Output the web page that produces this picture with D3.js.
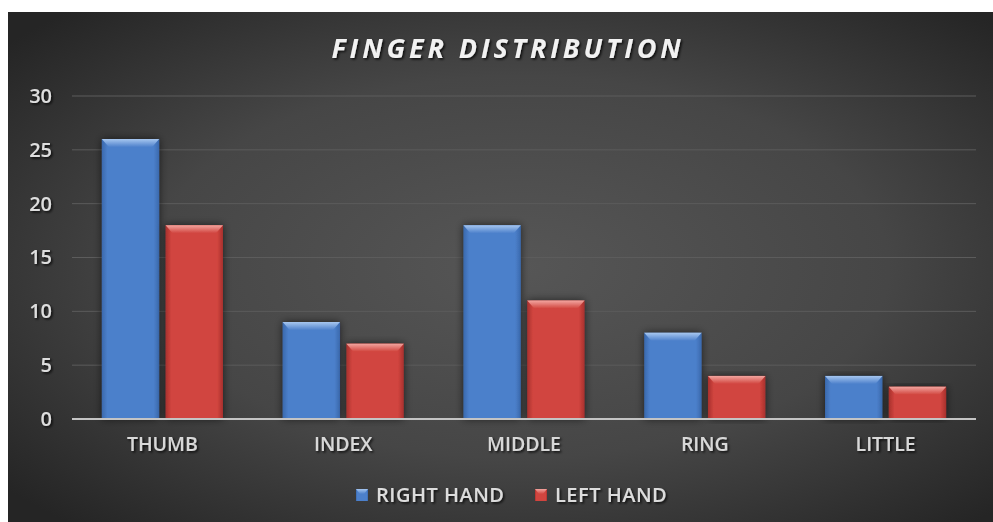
<!DOCTYPE html>
<html><head><meta charset="utf-8">
<script src="https://cdn.jsdelivr.net/npm/d3@7"></script>
<style>html,body{margin:0;padding:0;background:#fff;}svg{display:block;}</style>
</head><body>
<svg id="chart" width="993" height="522"></svg>
<script>
const categories = ["THUMB", "INDEX", "MIDDLE", "RING", "LITTLE"];
const seriesNames = ["RIGHT HAND", "LEFT HAND"];
const rightHand = [26, 9, 18, 8, 4];
const leftHand = [18, 7, 11, 4, 3];
const yTicks = [0, 5, 10, 15, 20, 25, 30];
const chartTitle = "FINGER DISTRIBUTION";

(function () {
const svg = d3.select("#chart");
const W = 993, H = 522;
const defs = svg.append("defs");

const bg = defs.append("radialGradient").attr("id", "bg")
  .attr("cx", "52%").attr("cy", "50%").attr("r", "68%");
bg.append("stop").attr("offset", "0%").attr("stop-color", "#565656");
bg.append("stop").attr("offset", "55%").attr("stop-color", "#464646");
bg.append("stop").attr("offset", "100%").attr("stop-color", "#252525");

function barGrad(id, dark, mid, light) {
  const g = defs.append("linearGradient").attr("id", id).attr("x1", "0").attr("x2", "1").attr("y1", "0").attr("y2", "0");
  g.append("stop").attr("offset", "0%").attr("stop-color", dark);
  g.append("stop").attr("offset", "10%").attr("stop-color", mid);
  g.append("stop").attr("offset", "90%").attr("stop-color", mid);
  g.append("stop").attr("offset", "100%").attr("stop-color", dark);
  const t = defs.append("linearGradient").attr("id", id + "top").attr("x1", "0").attr("x2", "0").attr("y1", "0").attr("y2", "1");
  t.append("stop").attr("offset", "0%").attr("stop-color", light);
  t.append("stop").attr("offset", "100%").attr("stop-color", mid);
}
barGrad("gBlue", "#3a69ad", "#4c80cb", "#a6c6ef");
barGrad("gRed", "#a8302d", "#d1453f", "#f2a59f");

const shadow = defs.append("filter").attr("id", "shadow").attr("x", "-30%").attr("y", "-10%").attr("width", "160%").attr("height", "120%");
shadow.append("feGaussianBlur").attr("in", "SourceAlpha").attr("stdDeviation", 4).attr("result", "b");
shadow.append("feComponentTransfer").attr("in", "b").attr("result", "s")
  .append("feFuncA").attr("type", "linear").attr("slope", 0.6);
const m = shadow.append("feMerge");
m.append("feMergeNode").attr("in", "s");
m.append("feMergeNode").attr("in", "SourceGraphic");

const tshadow = defs.append("filter").attr("id", "tshadow");
tshadow.append("feDropShadow").attr("dx", 1.5).attr("dy", 1.5).attr("stdDeviation", 1).attr("flood-color", "#000").attr("flood-opacity", 0.8);

svg.append("rect").attr("x", 8).attr("y", 12).attr("width", W - 8).attr("height", H - 12).attr("fill", "url(#bg)");

const pL = 72, pR = 976, pT = 96, pB = 419;
const x0 = d3.scaleBand().domain(categories).range([pL, pR]).paddingInner(0.33).paddingOuter(0.165);
const x1 = d3.scaleBand().domain(seriesNames).range([0, x0.bandwidth()]).paddingInner(0.1);
const y = d3.scaleLinear().domain([0, 30]).range([pB, pT]);

svg.append("g").selectAll("line").data(yTicks.filter(d => d > 0)).join("line")
  .attr("x1", pL).attr("x2", pR).attr("y1", d => y(d)).attr("y2", d => y(d))
  .attr("stroke", "#5c5c5c").attr("stroke-width", 1);

const yAxis = d3.axisLeft(y).tickValues(yTicks).tickSize(0).tickPadding(0);
const ya = svg.append("g").attr("transform", `translate(${pL - 20},0)`).call(yAxis);
ya.select(".domain").remove();
ya.selectAll("text").attr("fill", "#dedede").attr("font-family", "Open Sans, sans-serif")
  .attr("font-size", 20).attr("font-weight", "600").attr("text-anchor", "end").attr("filter", "url(#tshadow)");

const data = categories.map((c, i) => ({ c, vals: [ {s: seriesNames[0], v: rightHand[i], g: "gBlue"}, {s: seriesNames[1], v: leftHand[i], g: "gRed"} ] }));
const groups = svg.append("g").selectAll("g").data(data).join("g")
  .attr("transform", d => `translate(${x0(d.c)},0)`);
const bars = groups.selectAll("g").data(d => d.vals).join("g").attr("filter", "url(#shadow)");
bars.append("rect").attr("x", d => x1(d.s)).attr("y", d => y(d.v))
  .attr("width", x1.bandwidth()).attr("height", d => pB - y(d.v)).attr("fill", d => `url(#${d.g})`);
bars.append("path").attr("d", d => {
  const xa = x1(d.s), w = x1.bandwidth(), yt = y(d.v), h = 8;
  return `M${xa},${yt}L${xa + w},${yt}L${xa + w - 7},${yt + h}L${xa + 7},${yt + h}Z`;
}).attr("fill", d => `url(#${d.g}top)`);

svg.append("line").attr("x1", pL).attr("x2", pR).attr("y1", pB).attr("y2", pB)
  .attr("stroke", "#c4c4c4").attr("stroke-width", 2);

const xAxis = d3.axisBottom(x0).tickSize(0).tickPadding(0);
const xa = svg.append("g").attr("transform", `translate(0,${pB + 18})`).call(xAxis);
xa.select(".domain").remove();
xa.selectAll("text").attr("fill", "#d8d8d8").attr("font-family", "Open Sans, sans-serif")
  .attr("font-size", 19.5).attr("font-weight", "600").attr("filter", "url(#tshadow)");

svg.append("text").attr("x", 508).attr("y", 58).attr("text-anchor", "middle")
  .attr("fill", "#f2f2f2").attr("font-family", "Open Sans, sans-serif").attr("font-size", 27)
  .attr("font-weight", "bold").attr("font-style", "italic").attr("letter-spacing", 3.9)
  .attr("filter", "url(#tshadow)").text(chartTitle);

const legendData = [ {s: seriesNames[0], g: "gBlue", x: 356}, {s: seriesNames[1], g: "gRed", x: 535} ];
const lg = svg.append("g").selectAll("g").data(legendData).join("g")
  .attr("transform", d => `translate(${d.x},495)`);
lg.append("rect").attr("x", 0).attr("y", -6).attr("width", 12).attr("height", 12).attr("fill", d => `url(#${d.g})`);
lg.append("path").attr("d", "M0,-6L12,-6L8,-1L4,-1Z").attr("fill", d => `url(#${d.g}top)`);
lg.append("text").attr("x", 20).attr("y", 7).attr("fill", "#dcdcdc").attr("font-family", "Open Sans, sans-serif")
  .attr("font-size", 20).attr("font-weight", "600").attr("letter-spacing", 0.5).attr("filter", "url(#tshadow)").text(d => d.s);
})();
</script>
</body></html>
